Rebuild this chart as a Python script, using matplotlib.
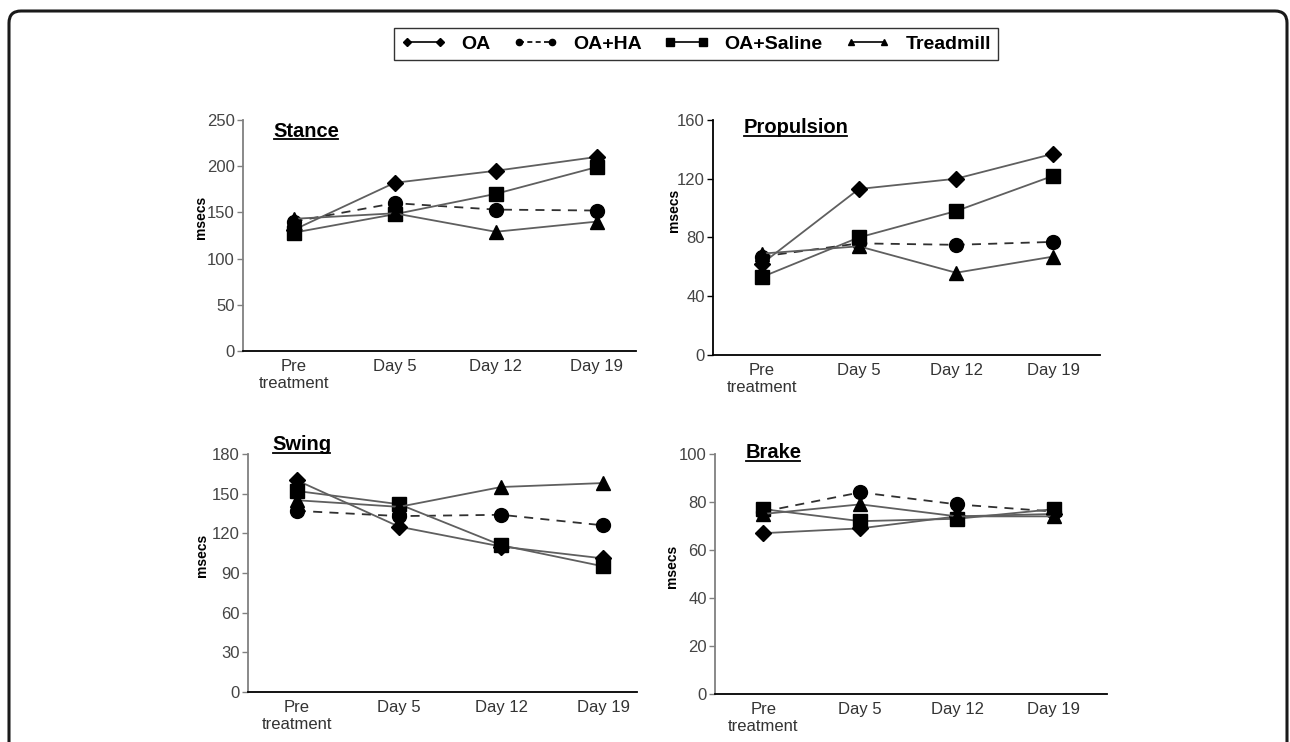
import matplotlib
matplotlib.use('Agg')
import matplotlib.pyplot as plt
from matplotlib.lines import Line2D
from matplotlib.patches import FancyBboxPatch
from matplotlib.transforms import IdentityTransform

plt.rcParams['font.family'] = ['Liberation Sans', 'DejaVu Sans']

# data
cats = ['Pre\ntreatment', 'Day 5', 'Day 12', 'Day 19']
groups = ['OA', 'OA+HA', 'OA+Saline', 'Treadmill']

stance_oa = [131, 182, 195, 210]
stance_ha = [140, 160, 153, 152]
stance_sal = [128, 148, 170, 199]
stance_tm = [143, 149, 129, 140]

prop_oa = [62, 113, 120, 137]
prop_ha = [67, 76, 75, 77]
prop_sal = [53, 80, 98, 122]
prop_tm = [69, 74, 56, 67]

swing_oa = [160, 125, 110, 101]
swing_ha = [137, 133, 134, 126]
swing_sal = [152, 142, 111, 95]
swing_tm = [145, 140, 155, 158]

brake_oa = [67, 69, 74, 75]
brake_ha = [76, 84, 79, 76]
brake_sal = [77, 72, 73, 77]
brake_tm = [75, 79, 74, 74]

# style per group: marker, size, linestyle, line colour
styles = {
    'OA': ('D', 8, '-', '#5f5f5f'),
    'OA+HA': ('o', 10, (0, (5, 4)), '#303030'),
    'OA+Saline': ('s', 10, '-', '#5f5f5f'),
    'Treadmill': ('^', 10, '-', '#5f5f5f'),
}

fig = plt.figure(figsize=(12.9, 7.42), dpi=100)

# outer rounded frame
frame = FancyBboxPatch((9, -30), 1278, 761, boxstyle='round,pad=0,rounding_size=12',
                       transform=IdentityTransform(), fill=False, lw=2.2, ec='#1a1a1a')
fig.patches.append(frame)

panels = [
    ('Stance', [stance_oa, stance_ha, stance_sal, stance_tm], (0, 250), [0, 50, 100, 150, 200, 250],
     [0.1884, 0.527, 0.3047, 0.3113], (-0.5, 3.39), (0.076, 0.952), (-0.107, 0.58), '#808080'),
    ('Propulsion', [prop_oa, prop_ha, prop_sal, prop_tm], (0, 160), [0, 40, 80, 120, 160],
     [0.5527, 0.5216, 0.300, 0.3167], (-0.5, 3.48), (0.078, 0.966), (-0.1, 0.615), '#000000'),
    ('Swing', [swing_oa, swing_ha, swing_sal, swing_tm], (0, 180), [0, 30, 60, 90, 120, 150, 180],
     [0.1922, 0.0674, 0.3016, 0.3208], (-0.48, 3.33), (0.062, 1.038), (-0.117, 0.575), '#808080'),
    ('Brake', [brake_oa, brake_ha, brake_sal, brake_tm], (0, 100), [0, 20, 40, 60, 80, 100],
     [0.5543, 0.0647, 0.3039, 0.3235], (-0.5, 3.55), (0.077, 1.004), (-0.11, 0.53), '#808080'),
]

titles = []
for name, series, ylim, yticks, rect, xlim, tpos, lpos, spc in panels:
    ax = fig.add_axes(rect)
    x = list(range(len(cats)))
    for g, vals in zip(groups, series):
        m, ms, ls, c = styles[g]
        ax.plot(x, vals, color=c, lw=1.3, ls=ls, marker=m, ms=ms, mfc='black', mec='black', zorder=3)
    ax.set_ylim(*ylim)
    ax.set_yticks(yticks)
    ax.set_xlim(*xlim)
    ax.set_xticks(x)
    ax.set_xticklabels(cats, fontsize=12, color='#333333', linespacing=1.15)
    ax.tick_params(axis='x', length=0, pad=6)
    ax.tick_params(axis='y', length=4, width=1, color=spc, labelsize=12, labelcolor='#444444', pad=2)
    for s in ['top', 'right']:
        ax.spines[s].set_visible(False)
    ax.spines['left'].set_color(spc)
    ax.spines['left'].set_linewidth(1.3)
    ax.spines['bottom'].set_color('black')
    ax.spines['bottom'].set_linewidth(1.3)
    ax.text(lpos[0], lpos[1], 'msecs', transform=ax.transAxes, rotation=90,
            ha='center', va='center', fontsize=10, fontweight='bold')
    t = ax.text(tpos[0], tpos[1], name, transform=ax.transAxes, ha='left', va='center',
                fontsize=14.5, fontweight='bold')
    titles.append(t)

# legend across the top
handles = []
for g in groups:
    m, ms, ls, c = styles[g]
    handles.append(Line2D([0], [0], color='black', lw=1.2, ls=(0, (3, 2)) if g == 'OA+HA' else '-',
                          marker=m, ms=4.5 if m != 's' else 6, mfc='black', mec='black'))
leg = fig.legend(handles, groups, loc='center', bbox_to_anchor=(0.5395, 0.9407), ncol=4,
                 numpoints=2, handlelength=2.3, handletextpad=0.8, columnspacing=1.15,
                 frameon=True, fancybox=False, edgecolor='black', borderpad=0.35,
                 prop={'weight': 'bold', 'size': 14})
leg.get_frame().set_linewidth(1.0)

# underline the panel titles
fig.canvas.draw()
r = fig.canvas.get_renderer()
for t in titles:
    bb = t.get_window_extent(r)
    fig.lines.append(Line2D([bb.x0 + 1, bb.x1 - 1], [bb.y0 + 1.5, bb.y0 + 1.5], color='black', lw=1.3,
                            transform=IdentityTransform()))

fig.savefig('out.png', dpi=100)
